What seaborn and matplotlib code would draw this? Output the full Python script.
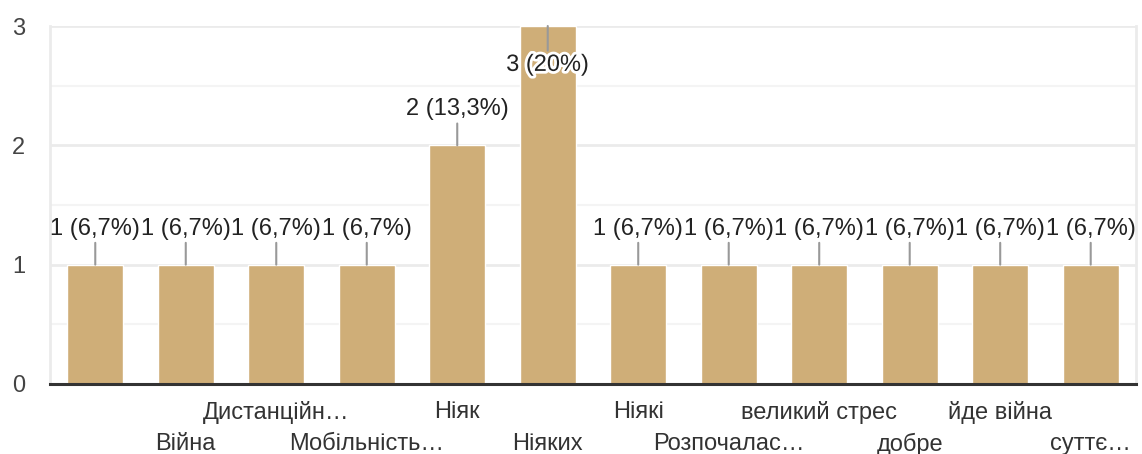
import seaborn as sns
import matplotlib.pyplot as plt
import matplotlib.patheffects as pe
from matplotlib.ticker import MultipleLocator

# answers (x axis) and how many people gave each one
answers = ["", "Війна", "Дистанційн…", "Мобільність…", "Ніяк", "Ніяких",
           "Ніякі", "Розпочалас…", "великий стрес", "добре", "йде війна", "суттє…"]
counts = [1, 1, 1, 1, 2, 3, 1, 1, 1, 1, 1, 1]

bar_color = "#cfae78"
fsize = 17

sns.set_style("white")
plt.rcParams["font.family"] = ["Liberation Sans", "DejaVu Sans"]

fig = plt.figure(figsize=(11.42, 4.54), dpi=100)
ax = fig.add_axes([0.0438, 0.1542, 0.9509, 0.7885])

sns.barplot(x=list(range(len(answers))), y=counts, color=bar_color,
            width=0.62, saturation=1, ax=ax)

ax.set_xlim(-0.5, len(answers) - 0.5)
ax.set_ylim(0, 3)
ax.yaxis.set_major_locator(MultipleLocator(1))
ax.yaxis.set_minor_locator(MultipleLocator(0.5))
ax.set_axisbelow(True)
ax.grid(axis="y", which="major", color="#ebebeb", lw=2)
ax.grid(axis="y", which="minor", color="#f4f4f4", lw=1.5)

# labels alternate between two rows: even ones on the axis, odd ones one row lower
pos = list(range(len(answers)))
ax.set_xticks(pos[0::2])
ax.set_xticklabels(answers[0::2])
ax.tick_params(axis="x", length=0, pad=12, labelsize=fsize, labelcolor="#333333")
sec = ax.secondary_xaxis("bottom")
sec.set_xticks(pos[1::2])
sec.set_xticklabels(answers[1::2])
sec.tick_params(axis="x", length=0, pad=35, labelsize=fsize, labelcolor="#333333")
sec.spines["bottom"].set_visible(False)

ax.tick_params(axis="y", which="both", length=0, pad=18, labelsize=fsize, labelcolor="#444444")
ax.set_xlabel("")
ax.set_ylabel("")

for side in ["left", "right"]:
    ax.spines[side].set_color("#ebebeb")
    ax.spines[side].set_linewidth(2)
ax.spines["top"].set_visible(False)
ax.spines["bottom"].set_color("#333333")
ax.spines["bottom"].set_linewidth(2.2)

total = sum(counts)
top = max(counts)
for i, c in enumerate(counts):
    pct = f"{c / total * 100:.1f}".rstrip("0").rstrip(".").replace(".", ",")
    label = f"{c} ({pct}%)"
    if c == top:
        t = ax.annotate(label, xy=(i, c), xytext=(0, -28), textcoords="offset points",
                        ha="center", va="center", fontsize=fsize, color="#222222",
                        arrowprops=dict(arrowstyle="-", color="#999999", lw=1.5,
                                        shrinkA=0, shrinkB=0))
        t.set_path_effects([pe.withStroke(linewidth=4, foreground="white")])
    else:
        ax.annotate(label, xy=(i, c), xytext=(0, 26), textcoords="offset points",
                    ha="center", va="center", fontsize=fsize, color="#222222",
                    arrowprops=dict(arrowstyle="-", color="#999999", lw=1.5,
                                    shrinkA=0, shrinkB=0))

fig.savefig("out.png", dpi=100)
